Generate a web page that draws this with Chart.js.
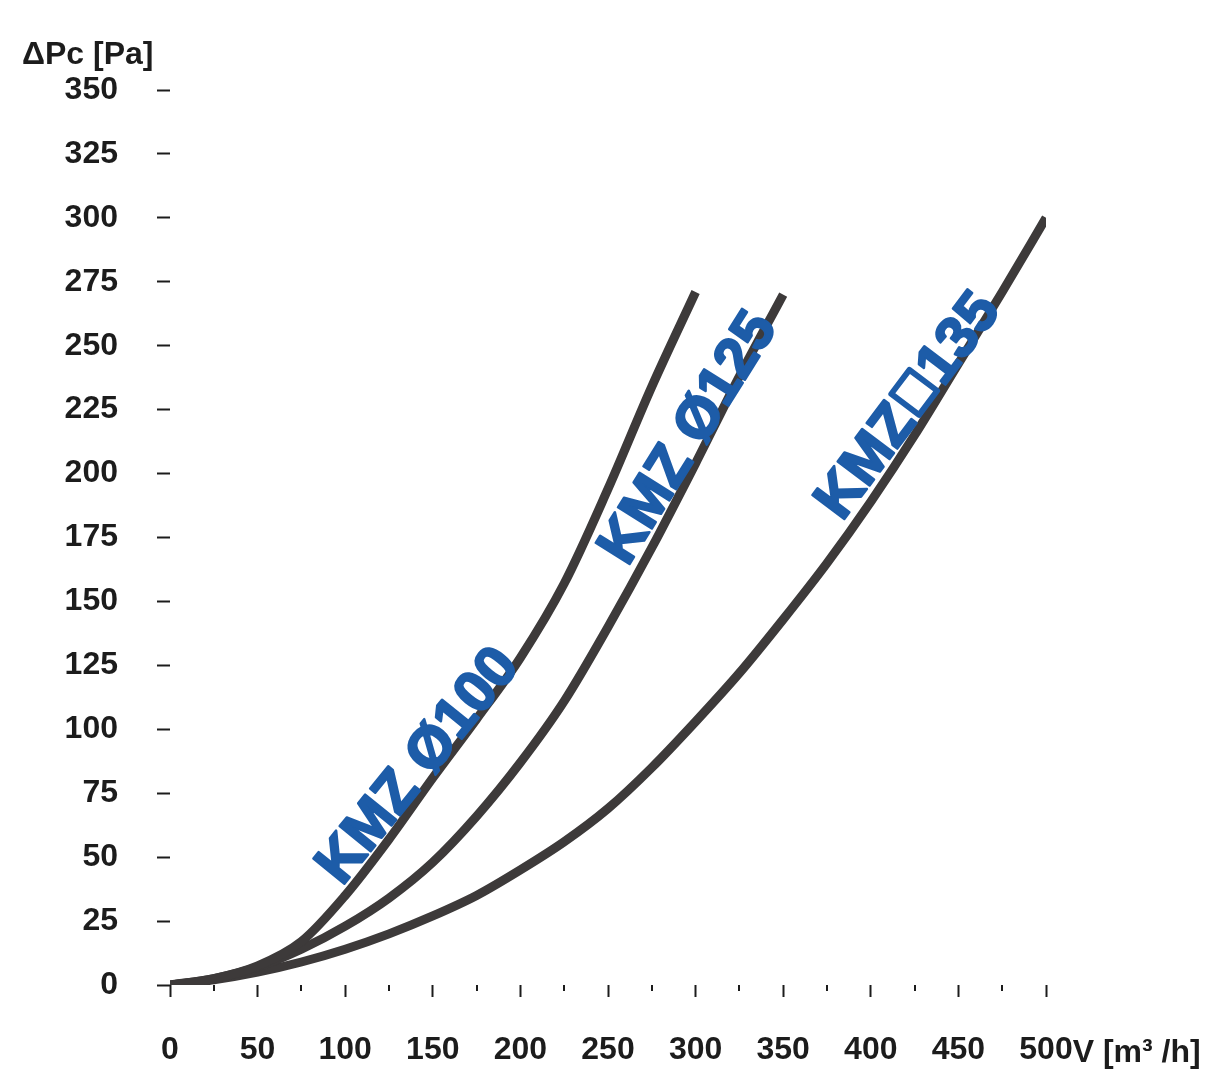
<!DOCTYPE html>
<html>
<head>
<meta charset="utf-8">
<script src="https://cdn.jsdelivr.net/npm/chart.js@4"></script>
<style>
  body { margin: 0; background: #fff; }
  canvas { display: block; }
</style>
</head>
<body>
<canvas id="myChart" width="1208" height="1070"></canvas>
<script>
const ctx = document.getElementById('myChart');

// flow V [m3/h] and pressure drop dPc [Pa]
const flowA = [0, 25, 50, 75, 100, 125, 150, 175, 200, 225, 250, 275, 300];
const dropA = [0, 2.5, 7.5, 17, 35, 57, 81, 104, 128, 157, 194, 234, 271];

const flowB = [0, 25, 50, 75, 100, 125, 150, 175, 200, 225, 250, 275, 300, 325, 350];
const dropB = [0, 2.5, 7, 14, 23, 34, 48, 66, 87, 111, 140, 171, 204, 238, 270];

const flowC = [0, 25, 50, 75, 100, 125, 150, 175, 200, 225, 250, 275, 300, 325, 350, 375, 400, 425, 450, 475, 500];
const dropC = [0, 2, 5, 9, 14, 20, 27, 35, 45, 56, 69, 85, 103, 122, 143, 165, 189, 215, 243, 271, 300];

const seriesNames = ['KMZ Ø100', 'KMZ Ø125', 'KMZ□135'];

const xTicks = [0, 50, 100, 150, 200, 250, 300, 350, 400, 450, 500];
const yTicks = [0, 25, 50, 75, 100, 125, 150, 175, 200, 225, 250, 275, 300, 325, 350];

const lineColor = '#3d3a3a';
const textColor = '#1c1c1c';
const blue = '#1d5ca8';
const fontFamily = 'Arial, "Liberation Sans", sans-serif';

function toPoints(xs, ys) {
    var pts = [];
    for (var i = 0; i < xs.length; i++) {
        pts.push({ x: xs[i], y: ys[i] });
    }
    return pts;
}

// where each curve name sits (data coords) and its slant
const labelSpots = [
    { at: [150, 81], angle: 51 },
    { at: [305, 210], angle: 58 },
    { at: [430, 222], angle: 53 }
];

// draws a name left to right, with the square sign drawn as an outlined box
function drawName(c, text, size) {
    var parts = text.split('□');
    var box = size * 0.62;
    var gap = size * 0.06;
    var total = 0;
    parts.forEach(function (p) { total += c.measureText(p).width; });
    if (parts.length > 1) total += box + gap * 2;
    var x = -total / 2;
    parts.forEach(function (p, i) {
        c.strokeText(p, x, 0);
        c.fillText(p, x, 0);
        x += c.measureText(p).width;
        if (i < parts.length - 1) {
            c.save();
            c.lineWidth = size * 0.1;
            var h = size * 0.7;
            c.strokeRect(x + gap + c.lineWidth / 2, -h + c.lineWidth / 2, box - c.lineWidth, h - c.lineWidth);
            c.restore();
            x += box + gap * 2;
        }
    });
}

const extras = {
    id: 'extras',
    afterDraw(chart) {
        const c = chart.ctx;
        const xs = chart.scales.x;
        const ys = chart.scales.y;
        const area = chart.chartArea;
        c.save();

        // short minor marks between the numbered x ticks
        c.strokeStyle = textColor;
        c.lineWidth = 2;
        for (var v = 25; v < 500; v += 50) {
            var px = Math.round(xs.getPixelForValue(v));
            c.beginPath();
            c.moveTo(px, area.bottom);
            c.lineTo(px, area.bottom + 6);
            c.stroke();
        }

        // axis names
        c.fillStyle = textColor;
        c.font = 'bold 32px ' + fontFamily;
        c.textAlign = 'left';
        c.textBaseline = 'alphabetic';
        c.fillText('ΔPc [Pa]', 22, area.top - 26);

        c.font = 'bold 32px ' + fontFamily;
        var end = xs.getPixelForValue(500) + c.measureText('500').width / 2;
        c.textBaseline = 'middle';
        c.fillText('V [m³ /h]', end, 1053);

        // curve names
        var size = 58;
        c.fillStyle = blue;
        c.strokeStyle = blue;
        c.lineWidth = 2.5;
        c.lineJoin = 'round';
        c.font = 'bold ' + size + 'px ' + fontFamily;
        c.textAlign = 'left';
        c.textBaseline = 'alphabetic';
        labelSpots.forEach(function (s, i) {
            c.save();
            c.translate(xs.getPixelForValue(s.at[0]), ys.getPixelForValue(s.at[1]));
            c.rotate(-s.angle * Math.PI / 180);
            c.translate(0, -2);
            drawName(c, seriesNames[i], size);
            c.restore();
        });
        c.restore();
    }
};

const data = {
    datasets: [
        { label: seriesNames[0], data: toPoints(flowA, dropA) },
        { label: seriesNames[1], data: toPoints(flowB, dropB) },
        { label: seriesNames[2], data: toPoints(flowC, dropC) }
    ].map(function (d) {
        d.borderColor = lineColor;
        d.borderWidth = 9;
        d.pointRadius = 0;
        d.fill = false;
        d.cubicInterpolationMode = 'monotone';
        d.borderCapStyle = 'butt';
        return d;
    })
};

new Chart(ctx, {
    type: 'line',
    data: data,
    options: {
        responsive: false,
        animation: false,
        layout: { padding: { top: 90, right: 162, bottom: 0, left: 0 } },
        plugins: {
            legend: { display: false },
            tooltip: { enabled: false }
        },
        scales: {
            x: {
                type: 'linear',
                min: 0,
                max: 500,
                afterBuildTicks: function (s) { s.ticks = xTicks.map(function (v) { return { value: v }; }); },
                afterFit: function (s) { s.height = 85; },
                border: { display: false },
                grid: { drawOnChartArea: false, tickLength: 12, tickWidth: 2, tickColor: textColor },
                ticks: {
                    autoSkip: false,
                    maxRotation: 0,
                    padding: 34,
                    color: textColor,
                    font: { family: fontFamily, size: 32, weight: 'bold' }
                }
            },
            y: {
                min: 0,
                max: 350,
                afterBuildTicks: function (s) { s.ticks = yTicks.map(function (v) { return { value: v }; }); },
                afterFit: function (s) { s.width = 170; },
                border: { display: false },
                grid: { drawOnChartArea: false, tickLength: 13, tickWidth: 2, tickColor: textColor },
                ticks: {
                    padding: 39,
                    color: textColor,
                    font: { family: fontFamily, size: 32, weight: 'bold' }
                }
            }
        }
    },
    plugins: [extras]
});
</script>
</body>
</html>
